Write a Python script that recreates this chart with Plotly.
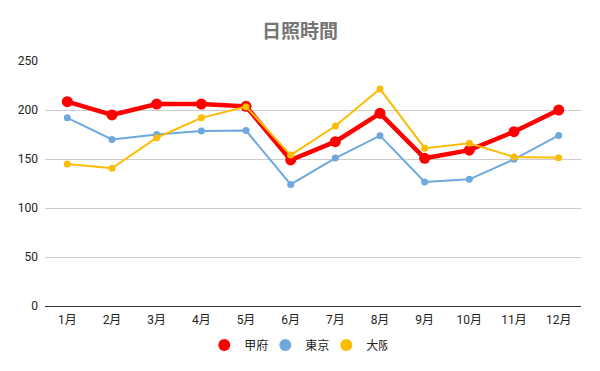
import plotly.graph_objects as go

months = ["1月", "2月", "3月", "4月", "5月", "6月", "7月", "8月", "9月", "10月", "11月", "12月"]
kofu = [208.5, 195, 206, 206, 203.7, 149, 167.7, 196.6, 150.7, 159, 177.9, 200]
tokyo = [192, 170, 175, 178.5, 179, 124, 151, 173.8, 126.5, 129.3, 149.7, 174]
osaka = [145, 140.5, 171.7, 192, 203.4, 154, 183.7, 221.4, 161, 166, 152, 151.3]
series_names = ["甲府", "東京", "大阪"]
colors = ["#ff0000", "#6fa8dc", "#fbbc04"]
y_ticks = [0, 50, 100, 150, 200, 250]

FONT = "Roboto, 'Noto Sans CJK JP', sans-serif"

fig = go.Figure()
for vals, idx, w, ms in [(tokyo, 1, 2, 7), (kofu, 0, 4.5, 11), (osaka, 2, 2, 7)]:
    fig.add_trace(go.Scatter(
        x=months, y=vals, mode="lines+markers", name=series_names[idx],
        line=dict(color=colors[idx], width=w), marker=dict(color=colors[idx], size=ms),
        showlegend=False, hoverinfo="x+y+name"))

for idx in range(3):
    fig.add_trace(go.Scatter(
        x=[None], y=[None], mode="markers", name=series_names[idx],
        marker=dict(color=colors[idx], size=14), showlegend=True))

fig.update_layout(
    width=600, height=371,
    margin=dict(l=45, r=19, t=61, b=65, autoexpand=False),
    plot_bgcolor="white", paper_bgcolor="white",
    title=dict(text="<b>日照時間</b>", x=0.5, xanchor="center", yref="container", y=0.916, yanchor="middle",
               font=dict(family=FONT, size=19, color="#757575")),
    font=dict(family=FONT, size=12, color="#222222"),
    xaxis=dict(type="category", range=[-0.5, len(months) - 0.5], showgrid=False, showline=True,
               linecolor="#333333", linewidth=1, ticks="", tickfont=dict(size=12, color="#222222"),
               ticklabelstandoff=3, automargin=False),
    yaxis=dict(range=[0, 250], tickvals=y_ticks, showgrid=True, gridcolor="#cccccc",
               gridwidth=1, zeroline=False, ticks="", tickfont=dict(size=12, color="#222222"),
               ticklabelstandoff=6, automargin=False),
    legend=dict(orientation="h", xref="container", x=0.493, xanchor="center", yref="container",
                y=0.07, yanchor="middle",
                font=dict(size=12, color="#222222"), itemsizing="constant", itemwidth=30,
                entrywidth=16),
)

fig.write_html("out.html", config={"displayModeBar": False},
               post_script="document.body.style.margin='0';document.body.style.overflow='hidden';")
